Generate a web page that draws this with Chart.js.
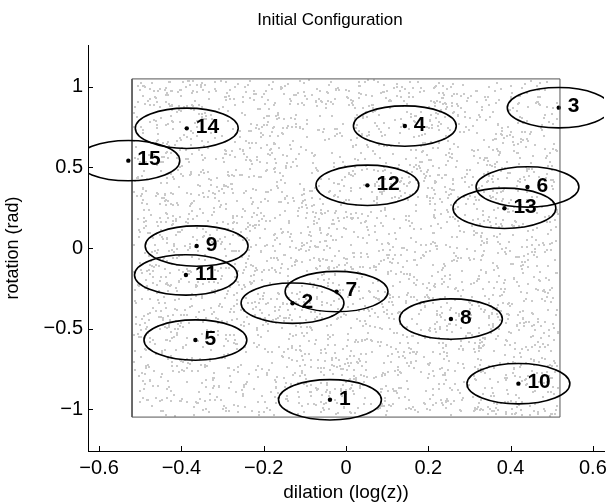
<!DOCTYPE html>
<html><head><meta charset="utf-8">
<script src="https://cdn.jsdelivr.net/npm/chart.js@4.4.1/dist/chart.umd.min.js"></script>
<style>html,body{margin:0;padding:0;background:#fff}#wrap{width:613px;height:504px}</style>
</head><body><div id="wrap"><canvas id="c" width="613" height="504"></canvas></div>
<script>
// ---- data ----
const pointIds = [1, 2, 3, 4, 5, 6, 7, 8, 9, 10, 11, 12, 13, 14, 15];
const dilation = [-0.039, -0.130, 0.517, 0.143, -0.366, 0.441, -0.023, 0.255, -0.363, 0.419, -0.389, 0.052, 0.385, -0.387, -0.529];
const rotation = [-0.940, -0.342, 0.869, 0.755, -0.570, 0.378, -0.270, -0.440, 0.012, -0.840, -0.167, 0.388, 0.246, 0.741, 0.541];
const ellipseRadius = 0.125;            // data units on both axes
const regionX = [-0.52, 0.52];           // sampled dilation range
const regionY = [-1.047, 1.047];         // sampled rotation range
const xTicks = [-0.6, -0.4, -0.2, 0, 0.2, 0.4, 0.6];
const yTicks = [-1, -0.5, 0, 0.5, 1];
const xRange = [-0.627, 0.627];
const yRange = [-1.257, 1.257];

const FONT = "'Liberation Sans', Arial, Helvetica, sans-serif";
function fmt(v) {
  const a = parseFloat(Math.abs(v).toFixed(2));
  return (v < 0 && a !== 0 ? '\u2212' : '') + a;
}
function frac(v) { return v - Math.floor(v); }

const overlay = {
  id: 'overlay',
  beforeDatasetsDraw(chart) {
    const { ctx, scales: { x, y } } = chart;
    const l = x.getPixelForValue(regionX[0]), r = x.getPixelForValue(regionX[1]);
    const t = y.getPixelForValue(regionY[1]), b = y.getPixelForValue(regionY[0]);
    const w = r - l, h = b - t;
    // speckle texture filling the sampled region (styling only)
    ctx.save();
    ctx.fillStyle = '#cacaca';
    const n = Math.round(w * h * 0.022);
    for (let i = 0; i < n; i++) {
      const u = frac(Math.sin(i * 12.9898 + 1.7) * 43758.5453);
      const v = frac(Math.sin(i * 78.233 + 3.1) * 24634.6345);
      ctx.fillRect(Math.floor(l + 1 + u * (w - 3)), Math.floor(t + 1 + v * (h - 3)), 2, 2);
    }
    ctx.restore();
  },
  afterDatasetsDraw(chart) {
    const { ctx, chartArea: ca, scales: { x, y } } = chart;
    ctx.save();
    ctx.beginPath();
    ctx.rect(ca.left, ca.top, ca.right - ca.left, ca.bottom - ca.top);
    ctx.clip();
    ctx.strokeStyle = '#000';
    ctx.lineWidth = 1.6;
    pointIds.forEach((id, i) => {
      const cx = x.getPixelForValue(dilation[i]);
      const cy = y.getPixelForValue(rotation[i]);
      const rx = Math.abs(x.getPixelForValue(dilation[i] + ellipseRadius) - cx);
      const ry = Math.abs(y.getPixelForValue(rotation[i] + ellipseRadius) - cy);
      ctx.beginPath();
      ctx.ellipse(cx, cy, rx, ry, 0, 0, Math.PI * 2);
      ctx.stroke();
    });
    ctx.fillStyle = '#000';
    ctx.font = 'bold 21px ' + FONT;
    ctx.textBaseline = 'middle';
    ctx.textAlign = 'left';
    pointIds.forEach((id, i) => {
      const cx = x.getPixelForValue(dilation[i]);
      const cy = y.getPixelForValue(rotation[i]);
      ctx.fillText(String(id), cx + 9, cy - 1);
    });
    ctx.restore();
  },
  afterDraw(chart) {
    const { ctx, chartArea: ca, scales: { x, y } } = chart;
    ctx.save();
    ctx.strokeStyle = '#000';
    ctx.lineWidth = 1;
    ctx.beginPath();
    x.ticks.forEach(t => {
      const px = Math.round(x.getPixelForValue(t.value)) + 0.5;
      ctx.moveTo(px, ca.bottom); ctx.lineTo(px, ca.bottom - 5);
    });
    y.ticks.forEach(t => {
      const py = Math.round(y.getPixelForValue(t.value)) + 0.5;
      ctx.moveTo(ca.left, py); ctx.lineTo(ca.left + 5, py);
    });
    ctx.stroke();
    // title above the axes box
    ctx.fillStyle = '#000';
    ctx.font = '17px ' + FONT;
    ctx.textAlign = 'center';
    ctx.textBaseline = 'middle';
    ctx.fillText('Initial Configuration', (ca.left + ca.right) / 2 - 16, 20);
    ctx.restore();
  }
};

new Chart(document.getElementById('c'), {
  type: 'scatter',
  data: {
    datasets: [
      {
        label: 'region',
        type: 'line',
        data: [
          { x: regionX[0], y: regionY[0] }, { x: regionX[1], y: regionY[0] },
          { x: regionX[1], y: regionY[1] }, { x: regionX[0], y: regionY[1] },
          { x: regionX[0], y: regionY[0] }
        ],
        borderColor: '#555',
        borderWidth: 1,
        pointRadius: 0,
        fill: false,
        tension: 0
      },
      {
        label: 'centres',
        data: dilation.map((v, i) => ({ x: v, y: rotation[i] })),
        pointRadius: 2.2,
        pointHoverRadius: 2.2,
        backgroundColor: '#000',
        borderWidth: 0
      }
    ]
  },
  options: {
    responsive: false,
    animation: false,
    devicePixelRatio: 1,
    layout: { padding: { left: 0, right: 9, top: 45, bottom: 0 } },
    plugins: {
      legend: { display: false },
      tooltip: { enabled: false },
      title: { display: false }
    },
    scales: {
      x: {
        type: 'linear',
        min: xRange[0], max: xRange[1],
        afterBuildTicks: s => { s.ticks = xTicks.map(v => ({ value: v })); },
        afterFit: s => { s.height = 53; },
        ticks: { callback: v => fmt(v), color: '#000', font: { family: FONT, size: 20 }, padding: 5, maxRotation: 0, autoSkip: false },
        grid: { display: true, drawOnChartArea: false, drawTicks: false },
        border: { display: true, color: '#000', width: 1 },
        title: { display: true, text: 'dilation (log(z))', color: '#000', font: { family: FONT, size: 19 }, padding: { top: 0, bottom: 0 } }
      },
      y: {
        type: 'linear',
        min: yRange[0], max: yRange[1],
        afterBuildTicks: s => { s.ticks = yTicks.map(v => ({ value: v })); },
        afterFit: s => { s.width = 88; },
        ticks: { callback: v => fmt(v), color: '#000', font: { family: FONT, size: 20 }, padding: 5, autoSkip: false },
        grid: { display: true, drawOnChartArea: false, drawTicks: false },
        border: { display: true, color: '#000', width: 1 },
        title: { display: true, text: 'rotation (rad)', color: '#000', font: { family: FONT, size: 18 }, padding: { top: 2, bottom: 0 } }
      }
    }
  },
  plugins: [overlay]
});
</script>
</body></html>
